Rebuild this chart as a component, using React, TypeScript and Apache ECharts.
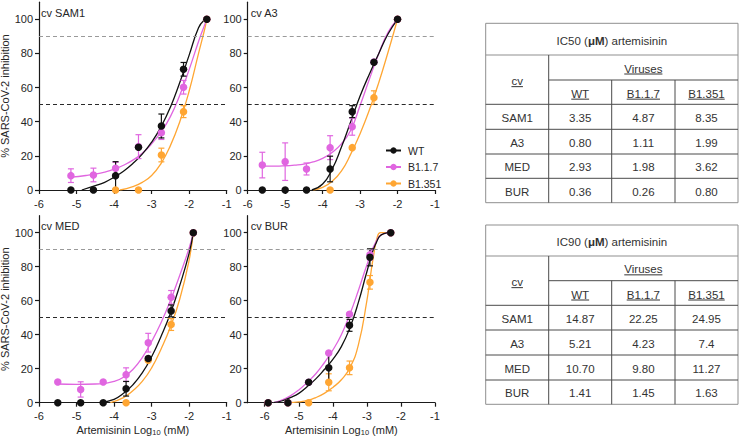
import React, { useEffect, useRef } from "react";
import * as echarts from "echarts";

const FONT = '"Liberation Sans", Arial, Helvetica, sans-serif';
const TEXT = "#262626";

const variants = ["WT", "B1.1.7", "B1.351"];
const variantColors = ["#111111", "#e066e0", "#ffa633"];
const panelTitles = ["cv SAM1", "cv A3", "cv MED", "cv BUR"];
const xTickValues = [-6, -5, -4, -3, -2, -1];
const yTickValues = [0, 20, 40, 60, 80, 100];
const xMins = [-6, -6, -6, -6.5];
const refLines = [90, 50];

// ---- cv SAM1 ----
const sam1Conc = [-5.15, -4.55, -3.96, -3.35, -2.74, -2.15, -1.53];
const sam1WT = [0, 0, 8.4, 25, 37.5, 70.7, 100];
const sam1WTErr = [0, 0, 8.2, 0, 7, 4, 0];
const sam1B117 = [8.4, 8.8, 12.7, 25.4, 33.6, 60.2, 100];
const sam1B117Err = [4, 4, 3.5, 7, 4, 4, 0];
const sam1B1351 = [null, null, 0, 0, 20.5, 45.9, 100];
const sam1B1351Err = [0, 0, 0, 0, 4, 3.5, 0];
const sam1FitWT = [[-4.86, 0], [-4.5, 2.5], [-4.25, 4.5], [-4.0, 7.5], [-3.75, 11], [-3.5, 15.5], [-3.25, 21], [-3.0, 28], [-2.75, 37], [-2.5, 48.5], [-2.25, 63], [-2.0, 79], [-1.75, 95], [-1.6, 99.5], [-1.53, 100]];
const sam1FitB117 = [[-5.15, 7.5], [-4.75, 8.5], [-4.5, 9.3], [-4.25, 10.5], [-4.0, 12.2], [-3.75, 14.5], [-3.5, 17.5], [-3.25, 21.5], [-3.0, 27], [-2.75, 34], [-2.5, 43], [-2.25, 55.5], [-2.0, 70.5], [-1.75, 87], [-1.6, 96], [-1.53, 100]];
const sam1FitB1351 = [[-3.84, 0], [-3.5, 2], [-3.25, 4.5], [-3.0, 8.5], [-2.75, 15.5], [-2.5, 26], [-2.25, 40], [-2.0, 58], [-1.75, 80], [-1.6, 93], [-1.53, 100]];

// ---- cv A3 ----
const a3Conc = [-5.61, -5.0, -4.43, -3.8, -3.21, -2.63, -2.0];
const a3WT = [0, 0, 0, 12.3, 45.9, 74.8, 100];
const a3WTErr = [0, 0, 0, 7.5, 3.5, 0, 0];
const a3B117 = [14.6, 16.6, 12.3, 24.8, 37.1, 75, 100];
const a3B117Err = [7.5, 11, 3.5, 7, 5, 0, 0];
const a3B1351 = [null, null, null, 0, 24.8, 54.1, 100];
const a3B1351Err = [0, 0, 0, 0, 0, 4, 0];
const a3FitWT = [[-4.29, 0], [-4.0, 3.5], [-3.75, 12], [-3.5, 25], [-3.25, 40], [-3.0, 55], [-2.75, 68], [-2.5, 80], [-2.25, 91.5], [-2.0, 100]];
const a3FitB117 = [[-5.61, 14], [-5.25, 14], [-5.0, 14.2], [-4.75, 14.6], [-4.5, 15.2], [-4.25, 16.5], [-4.0, 18.5], [-3.75, 22], [-3.5, 27], [-3.25, 35], [-3.0, 49.5], [-2.75, 65], [-2.5, 80], [-2.25, 92.5], [-2.0, 100]];
const a3FitB1351 = [[-4.25, 0], [-4.0, 1.5], [-3.75, 5], [-3.5, 11], [-3.25, 21], [-3.0, 33], [-2.75, 47], [-2.5, 63], [-2.25, 81], [-2.0, 100]];

// ---- cv MED ----
const medConc = [-5.5, -4.89, -4.29, -3.68, -3.09, -2.48, -1.89];
const medWT = [0, 0, 0, 8.2, 26, 54, 100];
const medWTErr = [0, 0, 0, 4.3, 0, 3.5, 0];
const medB117 = [12.2, 7.8, 12.2, 16.5, 35.3, 62, 100];
const medB117Err = [0, 4.5, 0, 4, 5.5, 4, 0];
const medB1351 = [null, null, null, 0, 25, 46, 100];
const medB1351Err = [0, 0, 0, 0, 0, 3.5, 0];
const medFitWT = [[-4.4, 0], [-4.0, 2], [-3.75, 5.5], [-3.5, 10.5], [-3.25, 17.5], [-3.0, 27], [-2.75, 39], [-2.5, 52.5], [-2.25, 69], [-2.0, 88], [-1.89, 100]];
const medFitB117 = [[-5.5, 11], [-5.0, 10.8], [-4.5, 11], [-4.25, 11.5], [-4.0, 12.5], [-3.75, 15], [-3.5, 19.5], [-3.25, 26.5], [-3.0, 36], [-2.75, 47], [-2.5, 60], [-2.25, 75], [-2.0, 91], [-1.89, 100]];
const medFitB1351 = [[-4.1, 0], [-3.75, 3], [-3.5, 7], [-3.25, 12.5], [-3.0, 20.5], [-2.75, 31.5], [-2.5, 44.5], [-2.25, 61], [-2.0, 84], [-1.89, 100]];

// ---- cv BUR ----
const burConc = [-5.9, -5.32, -4.71, -4.12, -3.51, -2.91, -2.3];
const burWT = [0, 0, 12, 20.5, 45.5, 85.5, 100];
const burWTErr = [0, 0, 0, 8.5, 3.5, 5, 0];
const burB117 = [0, 0, 12, 29.2, 52, 87, 100];
const burB117Err = [0, 0, 0, 0, 0, 3, 0];
const burB1351 = [0, 0, 0, 12, 20.5, 70.8, 100];
const burB1351Err = [0, 0, 0, 5, 4, 4, 0];
const burFitWT = [[-5.75, 0], [-5.5, 1], [-5.25, 3], [-5.0, 5.5], [-4.75, 9.5], [-4.5, 14], [-4.25, 19.5], [-4.0, 25.5], [-3.75, 33], [-3.5, 44], [-3.25, 59], [-3.0, 77], [-2.75, 93], [-2.5, 99.5], [-2.3, 100]];
const burFitB117 = [[-5.75, 0], [-5.5, 1.5], [-5.25, 4], [-5.0, 7.5], [-4.75, 12], [-4.5, 17], [-4.25, 23.5], [-4.0, 31], [-3.75, 40], [-3.5, 52], [-3.25, 66], [-3.0, 81], [-2.75, 94], [-2.5, 99.5], [-2.3, 100]];
const burFitB1351 = [[-5.3, 0], [-5.0, 0.5], [-4.75, 1.3], [-4.5, 3], [-4.25, 5.5], [-4.0, 9], [-3.75, 13.5], [-3.5, 20.5], [-3.25, 34], [-3.0, 60], [-2.9, 74], [-2.8, 87], [-2.7, 97], [-2.6, 100], [-2.3, 100]];

// ---- tables ----
const tableCvs = ["SAM1", "A3", "MED", "BUR"];
const ic50Values = [
  ["3.35", "4.87", "8.35"],
  ["0.80", "1.11", "1.99"],
  ["2.93", "1.98", "3.62"],
  ["0.36", "0.26", "0.80"],
];
const ic90Values = [
  ["14.87", "22.25", "24.95"],
  ["5.21", "4.23", "7.4"],
  ["10.70", "9.80", "11.27"],
  ["1.41", "1.45", "1.63"],
];

const panels = [
  { conc: sam1Conc, vals: [sam1WT, sam1B117, sam1B1351], errs: [sam1WTErr, sam1B117Err, sam1B1351Err], fits: [sam1FitWT, sam1FitB117, sam1FitB1351] },
  { conc: a3Conc, vals: [a3WT, a3B117, a3B1351], errs: [a3WTErr, a3B117Err, a3B1351Err], fits: [a3FitWT, a3FitB117, a3FitB1351] },
  { conc: medConc, vals: [medWT, medB117, medB1351], errs: [medWTErr, medB117Err, medB1351Err], fits: [medFitWT, medFitB117, medFitB1351] },
  { conc: burConc, vals: [burWT, burB117, burB1351], errs: [burWTErr, burB117Err, burB1351Err], fits: [burFitWT, burFitB117, burFitB1351] },
];

// layout
const gridRects = [
  { left: 39, top: 2.2, width: 187.7, height: 187.8 },
  { left: 247.7, top: 2.2, width: 187.3, height: 187.8 },
  { left: 39, top: 215.7, width: 187.7, height: 187 },
  { left: 247.7, top: 215.7, width: 187.3, height: 187 },
];
const titlePos = [
  [41, 13.3],
  [250.7, 13.3],
  [41, 225.7],
  [250.7, 225.7],
];
const tableX = [485.7, 548.7, 611.7, 675, 738];
const table1Y = [23.3, 55, 80, 104.3, 129.3, 154, 178.3, 202.7];
const table2Y = [225, 256, 280.7, 305.3, 330, 355, 380, 404.3];

const TFS = 11.5;
const TFONT = `${TFS}px ${FONT}`;

function measure(s: string): number {
  const c = document.createElement("canvas").getContext("2d");
  if (!c) return s.length * 6;
  c.font = TFONT;
  return c.measureText(s).width;
}

function hLine(x1: number, x2: number, y: number, color: string) {
  return { type: "line", silent: true, shape: { x1, y1: y, x2, y2: y }, style: { stroke: color, lineWidth: 1 } };
}
function vLine(x: number, y1: number, y2: number, color: string) {
  return { type: "line", silent: true, shape: { x1: x, y1, x2: x, y2 }, style: { stroke: color, lineWidth: 1 } };
}
function cellText(s: string, x: number, y: number, underline = false) {
  const els: any[] = [
    {
      type: "text",
      silent: true,
      x,
      y,
      style: { text: s, font: TFONT, fill: "#333", textAlign: "center", textVerticalAlign: "middle" },
    },
  ];
  if (underline) {
    const w = measure(s);
    els.push(hLine(x - w / 2, x + w / 2, y + 5.5, "#333"));
  }
  return els;
}

function buildTable(prefix: string, Y: number[], values: string[][]) {
  const X = tableX;
  const outer = "#8f8f8f";
  const inner = "#4a4a4a";
  const els: any[] = [];
  els.push({
    type: "rect",
    silent: true,
    shape: { x: X[0], y: Y[0], width: X[4] - X[0], height: Y[7] - Y[0] },
    style: { fill: "#fff", stroke: outer, lineWidth: 1 },
  });
  els.push(hLine(X[0], X[4], Y[1], outer));
  els.push(hLine(X[1], X[4], Y[2], inner));
  for (let r = 3; r <= 6; r++) els.push(hLine(X[0], X[4], Y[r], inner));
  els.push(vLine(X[1], Y[1], Y[7], inner));
  els.push(vLine(X[2], Y[2], Y[7], inner));
  els.push(vLine(X[3], Y[2], Y[7], inner));
  els.push({
    type: "text",
    silent: true,
    x: (X[0] + X[4]) / 2,
    y: (Y[0] + Y[1]) / 2 + 1.5,
    style: {
      text: `${prefix} ({b|μM}) artemisinin`,
      font: TFONT,
      fill: "#333",
      textAlign: "center",
      textVerticalAlign: "middle",
      rich: { b: { font: `bold ${TFS}px ${FONT}`, fill: "#333" } },
    },
  });
  els.push(...cellText("cv", (X[0] + X[1]) / 2, (Y[1] + Y[3]) / 2 + 1.5, true));
  els.push(...cellText("Viruses", (X[1] + X[4]) / 2, (Y[1] + Y[2]) / 2 + 1, true));
  for (let c = 0; c < 3; c++) {
    els.push(...cellText(variants[c], (X[c + 1] + X[c + 2]) / 2, (Y[2] + Y[3]) / 2 + 1.5, true));
  }
  for (let r = 0; r < 4; r++) {
    const y = (Y[r + 3] + Y[r + 4]) / 2 + 1.2;
    els.push(...cellText(tableCvs[r], (X[0] + X[1]) / 2, y));
    for (let c = 0; c < 3; c++) {
      els.push(...cellText(values[r][c], (X[c + 1] + X[c + 2]) / 2, y));
    }
  }
  return els;
}

function buildOption(): any {
  const axisColor = "#1a1a1a";
  const grid = gridRects.map((g) => ({ ...g, containLabel: false, outerBoundsMode: "none" }));
  const xAxis = gridRects.map((_, i) => ({
    type: "value",
    gridIndex: i,
    min: xMins[i],
    max: -1,
    interval: i === 3 ? undefined : 1,
    splitLine: { show: false },
    axisLine: { onZero: false, lineStyle: { color: axisColor, width: 1.2 } },
    axisTick: { customValues: xTickValues, length: 4, lineStyle: { color: axisColor, width: 1.2 } },
    axisLabel: { customValues: xTickValues, color: TEXT, fontSize: 11, fontFamily: FONT, margin: 8 },
    name: i >= 2 ? "Artemisinin Log{sub|10} (mM)" : "",
    nameLocation: "middle",
    nameGap: 20,
    nameTextStyle: {
      color: TEXT,
      fontSize: 11,
      fontFamily: FONT,
      rich: { sub: { fontSize: 7.5, fontFamily: FONT, color: TEXT, padding: [6, 0, 0, 0] } },
    },
  }));
  const yAxis = gridRects.map((_, i) => ({
    type: "value",
    gridIndex: i,
    min: 0,
    max: 110,
    splitLine: { show: false },
    axisLine: { show: true, onZero: false, lineStyle: { color: axisColor, width: 1.2 } },
    axisTick: { show: true, customValues: yTickValues, length: 4, lineStyle: { color: axisColor, width: 1.2 } },
    axisLabel: { customValues: yTickValues, color: TEXT, fontSize: 11, fontFamily: FONT, margin: 6 },
    name: i % 2 === 0 ? "% SARS-CoV-2 inhibition" : "",
    nameLocation: "middle",
    nameGap: 27,
    nameTextStyle: { color: TEXT, fontSize: 11, fontFamily: FONT },
  }));

  const series: any[] = [];
  panels.forEach((p, pi) => {
    // fitted curves
    [2, 1, 0].forEach((v, k) => {
      const s: any = {
        type: "line",
        name: variants[v],
        xAxisIndex: pi,
        yAxisIndex: pi,
        data: p.fits[v],
        smooth: 0.5,
        symbol: "circle",
        showSymbol: false,
        silent: true,
        lineStyle: { color: variantColors[v], width: 1.3 },
        itemStyle: { color: variantColors[v] },
        z: 3,
      };
      if (k === 0) {
        s.markLine = {
          silent: true,
          symbol: ["none", "none"],
          label: { show: false },
          data: refLines.map((y, j) => ({
            yAxis: y,
            lineStyle: { color: j === 0 ? "#9a9a9a" : "#2a2a2a", type: [4, 3], width: 1.2 },
          })),
        };
      }
      series.push(s);
    });
    // error bars + points
    [2, 1, 0].forEach((v) => {
      const color = variantColors[v];
      const eb: number[][] = [];
      const pts: number[][] = [];
      p.conc.forEach((x, j) => {
        const y = p.vals[v][j];
        if (y === null || y === undefined) return;
        pts.push([x, y]);
        const e = p.errs[v][j];
        if (e > 0) eb.push([x, y - e, y + e]);
      });
      series.push({
        type: "custom",
        name: variants[v] + " error",
        xAxisIndex: pi,
        yAxisIndex: pi,
        data: eb,
        encode: { x: 0, y: [1, 2] },
        silent: true,
        z: 4,
        renderItem: (params: any, api: any) => {
          const x = api.value(0);
          const lo = api.coord([x, api.value(1)]);
          const hi = api.coord([x, api.value(2)]);
          const c = 3;
          const st = { stroke: color, lineWidth: 1.2 };
          return {
            type: "group",
            children: [
              { type: "line", shape: { x1: lo[0], y1: lo[1], x2: hi[0], y2: hi[1] }, style: st },
              { type: "line", shape: { x1: hi[0] - c, y1: hi[1], x2: hi[0] + c, y2: hi[1] }, style: st },
              { type: "line", shape: { x1: lo[0] - c, y1: lo[1], x2: lo[0] + c, y2: lo[1] }, style: st },
            ],
          };
        },
      });
      series.push({
        type: "scatter",
        name: variants[v] + " points",
        xAxisIndex: pi,
        yAxisIndex: pi,
        data: pts,
        symbol: "circle",
        symbolSize: 7.5,
        silent: true,
        itemStyle: { color, opacity: 1 },
        z: 4,
      });
    });
  });

  const graphic: any[] = [];
  panelTitles.forEach((t, i) => {
    graphic.push({
      type: "text",
      silent: true,
      x: titlePos[i][0],
      y: titlePos[i][1],
      style: { text: t, font: `11px ${FONT}`, fill: TEXT, textAlign: "left", textVerticalAlign: "middle" },
    });
  });
  graphic.push(...buildTable("IC50", table1Y, ic50Values));
  graphic.push(...buildTable("IC90", table2Y, ic90Values));

  return {
    animation: false,
    backgroundColor: "#ffffff",
    textStyle: { fontFamily: FONT },
    grid,
    xAxis,
    yAxis,
    legend: {
      data: variants,
      orient: "vertical",
      left: 380,
      top: 140,
      itemWidth: 15,
      itemHeight: 8,
      itemGap: 5.5,
      selectedMode: false,
      textStyle: { fontSize: 10.5, color: TEXT, fontFamily: FONT, padding: [0, 0, 0, 2] },
    },
    series,
    graphic,
  };
}

export default function App() {
  const ref = useRef<HTMLDivElement>(null);
  useEffect(() => {
    if (!ref.current) return;
    const chart = echarts.init(ref.current, undefined, { renderer: "svg" });
    chart.setOption(buildOption());
    return () => chart.dispose();
  }, []);
  return (
    <div
      ref={ref}
      style={{ position: "absolute", left: 0, top: 0, width: 740, height: 439, background: "#fff" }}
    />
  );
}
